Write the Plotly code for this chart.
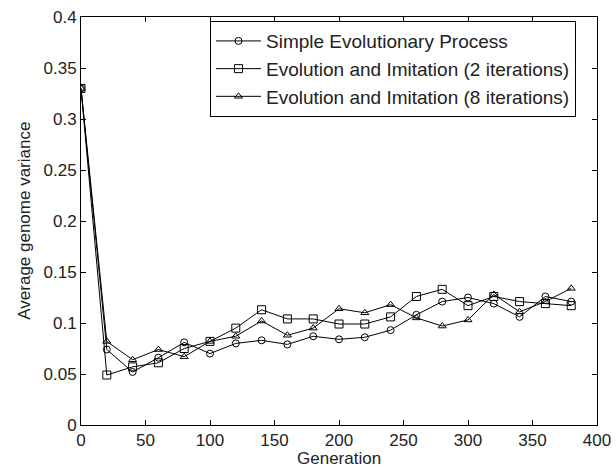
import plotly.graph_objects as go

generations = [0, 20, 40, 60, 80, 100, 120, 140, 160, 180, 200, 220, 240, 260, 280, 300, 320, 340, 360, 380]
simple_evo = [0.330, 0.074, 0.052, 0.066, 0.081, 0.070, 0.080, 0.083, 0.079, 0.087, 0.084, 0.086, 0.093, 0.108, 0.121, 0.125, 0.119, 0.106, 0.126, 0.121]
imit_2 = [0.330, 0.049, 0.057, 0.061, 0.075, 0.082, 0.095, 0.113, 0.104, 0.104, 0.099, 0.099, 0.106, 0.126, 0.133, 0.117, 0.126, 0.121, 0.119, 0.117]
imit_8 = [0.330, 0.082, 0.064, 0.074, 0.067, 0.082, 0.087, 0.102, 0.088, 0.095, 0.114, 0.110, 0.118, 0.105, 0.097, 0.103, 0.128, 0.111, 0.121, 0.134]

names = ["Simple Evolutionary Process",
         "Evolution and Imitation (2 iterations)",
         "Evolution and Imitation (8 iterations)"]
symbols = ["circle-open", "square-open", "triangle-up-open"]
sizes = [7, 8, 7]

x_ticks = [0, 50, 100, 150, 200, 250, 300, 350, 400]
y_ticks = [0, 0.05, 0.1, 0.15, 0.2, 0.25, 0.3, 0.35, 0.4]
y_tick_text = ["0", "0.05", "0.1", "0.15", "0.2", "0.25", "0.3", "0.35", "0.4"]
x_title = "Generation"
y_title = "Average genome variance"

fig = go.Figure()
for name, ys, sym, sz in zip(names, [simple_evo, imit_2, imit_8], symbols, sizes):
    fig.add_trace(go.Scatter(
        x=generations, y=ys, name=name, mode="lines+markers",
        line=dict(color="black", width=1),
        marker=dict(symbol=sym, size=sz, color="black", line=dict(width=1, color="black")),
    ))

fam = "Liberation Sans, Arial, sans-serif"
tick_font = dict(family=fam, size=17, color="#222")
title_font = dict(family=fam, size=17, color="#222")
fig.update_layout(
    width=616, height=467,
    margin=dict(l=81, r=19, t=17, b=42),
    paper_bgcolor="white", plot_bgcolor="white",
    font=tick_font,
    showlegend=True,
    legend=dict(
        x=0.25, y=0.99, xanchor="left", yanchor="top",
        bordercolor="black", borderwidth=1, bgcolor="white",
        font=dict(family=fam, size=19, color="#222"),
        tracegroupgap=0, itemwidth=45,
    ),
    xaxis=dict(
        range=[0, 400], tickvals=x_ticks, ticks="inside", ticklen=5, tickcolor="black",
        showline=True, linecolor="black", linewidth=1, mirror="ticks",
        showgrid=False, zeroline=False, tickfont=tick_font, automargin=False,
    ),
    yaxis=dict(
        range=[0, 0.4], tickvals=y_ticks, ticktext=y_tick_text, ticks="inside", ticklen=5,
        tickcolor="black",
        showline=True, linecolor="black", linewidth=1, mirror="ticks",
        showgrid=False, zeroline=False, tickfont=tick_font, automargin=False,
    ),
    annotations=[
        dict(text=x_title, xref="paper", yref="paper", x=0.5, y=-0.083,
             xanchor="center", yanchor="middle", showarrow=False, font=title_font),
        dict(text=y_title, xref="paper", yref="paper", x=-0.111, y=0.5,
             xanchor="center", yanchor="middle", showarrow=False, textangle=-90,
             font=title_font),
    ],
)

fig.write_html("out.html", config={"displayModeBar": False},
               post_script="document.body.style.margin='0px';document.body.style.overflow='hidden';")
